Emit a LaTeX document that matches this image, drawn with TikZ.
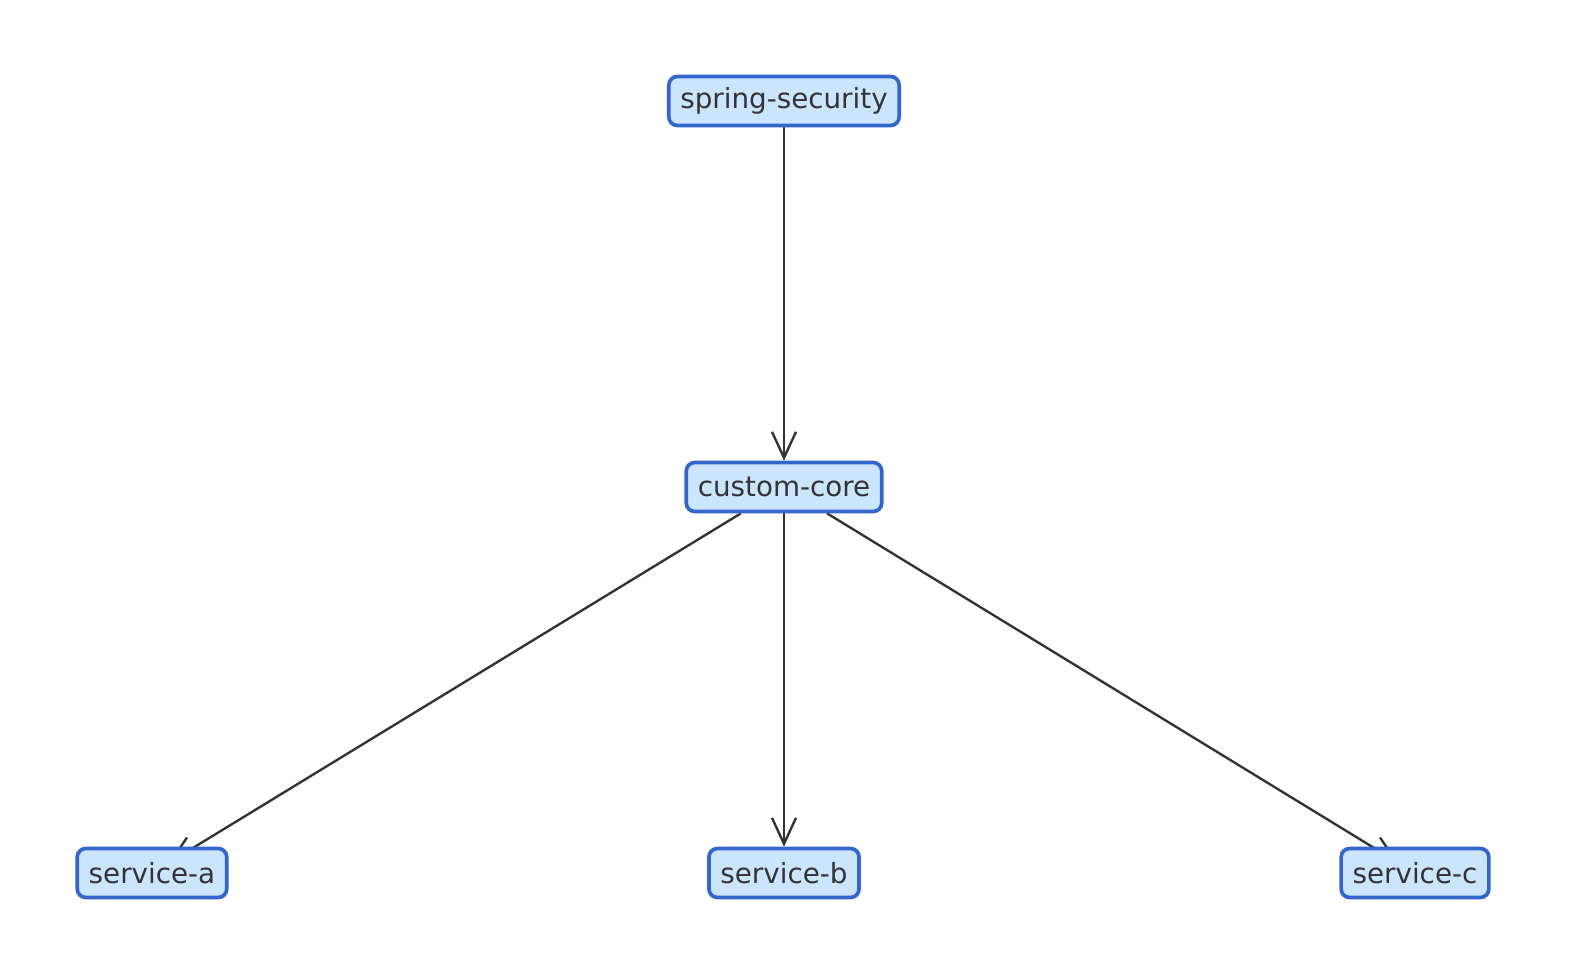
\documentclass[tikz,border=0pt]{standalone}
\usepackage{fontspec}
\setmainfont{DejaVu Sans}
\usetikzlibrary{positioning,arrows.meta,backgrounds}
\definecolor{boxfill}{HTML}{CCE5FF}
\definecolor{boxline}{HTML}{3366CC}
\definecolor{edgeline}{HTML}{333333}
\tikzset{
  module/.style={draw=boxline, fill=boxfill, line width=2.1pt,
    rounded corners=0.17cm, minimum height=0.98cm, inner xsep=0.23cm,
    text=edgeline, font=\fontsize{15.8}{18}\selectfont},
  dep/.style={draw=edgeline, line width=1.35pt,
    -{Straight Barb[length=0.52cm,width=0.48cm]}}
}
\begin{document}
\begin{tikzpicture}[node distance=7.72cm]
  \useasboundingbox (-15.68,2.02) rectangle (15.92,-17.58);
  \node[module] (sec)              {spring-security};
  \node[module] (core) [below of=sec]  {custom-core};
  \node[module] (sb)   [below of=core] {service-b};
  \node[module] (sa)   [left of=sb, node distance=12.64cm]  {service-a};
  \node[module] (sc)   [right of=sb, node distance=12.62cm] {service-c};

  \begin{scope}[on background layer]
    \draw [dep] (sec) to (core);
    \draw [dep] (core) to (sb);
    \draw [dep, shorten >=-0.62cm] (core) to (sa);
    \draw [dep, shorten >=-0.62cm] (core) to (sc);
  \end{scope}
\end{tikzpicture}
\end{document}
